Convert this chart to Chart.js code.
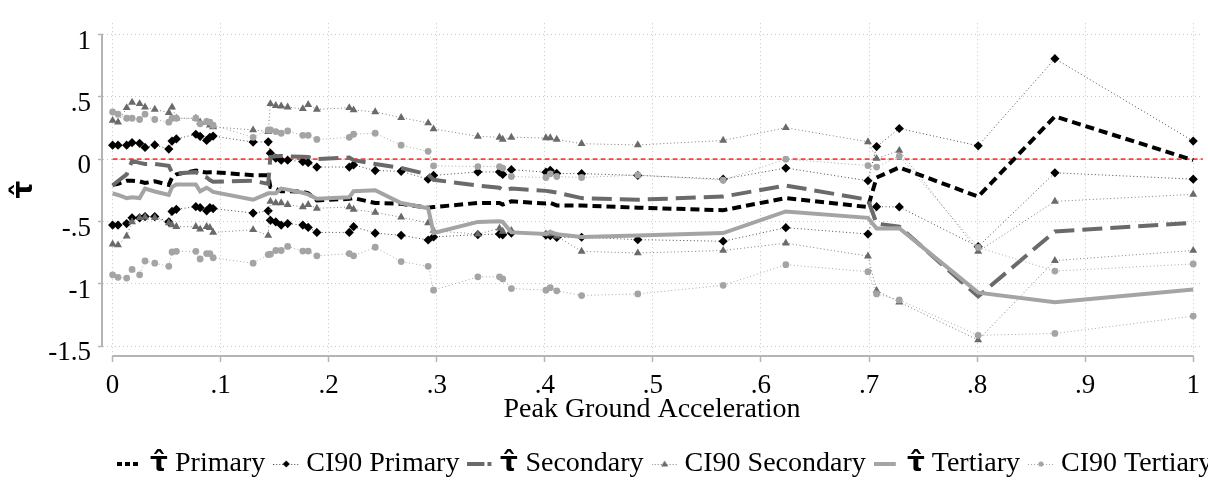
<!DOCTYPE html>
<html><head><meta charset="utf-8">
<script src="https://cdn.jsdelivr.net/npm/chart.js@4.4.0/dist/chart.umd.min.js"></script>
<style>
html,body{margin:0;padding:0;background:#fff;overflow:hidden}
#wrap{width:1208px;height:484px;position:relative}
@font-face{font-family:'TauSans';src:local('DejaVu Sans Bold'),local('DejaVuSans-Bold');unicode-range:U+03C4,U+0302;}
</style>
</head><body><div id="wrap"><canvas id="c" width="1208" height="484"></canvas></div>
<script>
// ---- data ----
const pga = [0.000,0.005,0.013,0.018,0.025,0.030,0.039,0.052,0.055,0.059,0.077,0.081,0.087,0.090,0.093,0.130,0.144,0.146,0.151,0.156,0.162,0.176,0.181,0.189,0.219,0.223,0.243,0.267,0.292,0.297,0.338,0.358,0.361,0.369,0.401,0.405,0.411,0.434,0.486,0.565,0.623,0.699,0.707,0.728,0.801,0.872,1.000];
const tauPrimary = [-0.206,-0.198,-0.173,-0.173,-0.178,-0.191,-0.178,-0.206,-0.147,-0.122,-0.091,-0.099,-0.107,-0.104,-0.104,-0.128,-0.128,-0.223,-0.236,-0.257,-0.257,-0.261,-0.274,-0.330,-0.318,-0.312,-0.351,-0.358,-0.389,-0.384,-0.351,-0.351,-0.364,-0.338,-0.356,-0.351,-0.371,-0.371,-0.389,-0.409,-0.312,-0.384,-0.147,-0.066,-0.300,0.343,-0.008];
const ciPrimaryUpper = [0.112,0.112,0.112,0.132,0.127,0.094,0.114,0.081,0.145,0.162,0.200,0.183,0.150,0.175,0.185,0.137,0.139,0.048,0.008,-0.008,-0.008,-0.020,-0.028,-0.063,-0.063,-0.046,-0.091,-0.097,-0.160,-0.130,-0.102,-0.102,-0.122,-0.084,-0.104,-0.089,-0.114,-0.116,-0.130,-0.160,-0.071,-0.173,0.101,0.246,0.107,0.806,0.145];
const ciPrimaryLower = [-0.528,-0.528,-0.516,-0.470,-0.470,-0.460,-0.460,-0.503,-0.419,-0.402,-0.381,-0.389,-0.414,-0.389,-0.396,-0.432,-0.414,-0.490,-0.503,-0.528,-0.516,-0.528,-0.547,-0.587,-0.587,-0.541,-0.593,-0.610,-0.648,-0.623,-0.605,-0.600,-0.606,-0.592,-0.608,-0.613,-0.628,-0.626,-0.645,-0.658,-0.549,-0.600,-0.381,-0.383,-0.701,-0.109,-0.160];
const tauSecondary = [-0.211,-0.175,-0.122,-0.013,-0.030,-0.038,-0.038,-0.053,-0.109,-0.114,-0.104,-0.122,-0.147,-0.168,-0.181,-0.173,-0.198,0.017,0.023,0.025,0.023,0.019,0.017,0.000,0.013,-0.008,-0.038,-0.071,-0.122,-0.165,-0.211,-0.229,-0.249,-0.236,-0.254,-0.259,-0.267,-0.312,-0.325,-0.300,-0.211,-0.325,-0.516,-0.541,-1.100,-0.579,-0.511];
const ciSecondaryUpper = [0.310,0.297,0.412,0.455,0.444,0.417,0.399,0.373,0.417,0.328,0.328,0.297,0.297,0.272,0.259,0.234,0.221,0.444,0.429,0.425,0.417,0.404,0.437,0.399,0.412,0.394,0.379,0.333,0.290,0.242,0.183,0.175,0.158,0.175,0.170,0.170,0.158,0.124,0.114,0.150,0.252,0.139,0.005,0.069,-0.739,-0.338,-0.282];
const ciSecondaryLower = [-0.681,-0.688,-0.617,-0.503,-0.470,-0.465,-0.470,-0.511,-0.528,-0.541,-0.541,-0.562,-0.541,-0.549,-0.587,-0.566,-0.612,-0.338,-0.351,-0.351,-0.364,-0.383,-0.364,-0.394,-0.383,-0.402,-0.427,-0.465,-0.511,-0.572,-0.602,-0.554,-0.579,-0.572,-0.600,-0.600,-0.617,-0.739,-0.752,-0.732,-0.673,-0.777,-1.054,-1.146,-1.450,-0.813,-0.732];
const tauTertiary = [-0.274,-0.287,-0.312,-0.305,-0.312,-0.236,-0.259,-0.287,-0.223,-0.203,-0.203,-0.257,-0.229,-0.244,-0.262,-0.325,-0.274,-0.274,-0.274,-0.236,-0.244,-0.269,-0.282,-0.318,-0.305,-0.257,-0.249,-0.351,-0.394,-0.592,-0.503,-0.498,-0.503,-0.587,-0.600,-0.582,-0.602,-0.623,-0.612,-0.592,-0.419,-0.470,-0.556,-0.554,-1.070,-1.146,-1.044];
const ciTertiaryUpper = [0.379,0.361,0.328,0.328,0.318,0.361,0.318,0.297,0.328,0.328,0.328,0.284,0.302,0.297,0.272,0.175,0.234,0.234,0.221,0.208,0.226,0.191,0.191,0.158,0.175,0.200,0.208,0.112,0.063,-0.053,-0.059,-0.059,-0.071,-0.139,-0.147,-0.117,-0.139,-0.147,-0.127,-0.168,0.000,-0.051,-0.063,0.025,-0.707,-0.897,-0.840];
const ciTertiaryLower = [-0.927,-0.947,-0.953,-0.884,-0.927,-0.816,-0.834,-0.859,-0.744,-0.739,-0.739,-0.800,-0.757,-0.757,-0.790,-0.834,-0.765,-0.762,-0.732,-0.732,-0.699,-0.737,-0.737,-0.775,-0.757,-0.775,-0.706,-0.821,-0.859,-1.050,-0.943,-0.943,-0.960,-1.037,-1.050,-1.030,-1.055,-1.093,-1.080,-1.011,-0.846,-0.902,-1.080,-1.128,-1.412,-1.397,-1.258];
const xTicks = [0,0.1,0.2,0.3,0.4,0.5,0.6,0.7,0.8,0.9,1];
const xTickLabels = ['0','.1','.2','.3','.4','.5','.6','.7','.8','.9','1'];
const yTicks = [-1.5,-1,-0.5,0,0.5,1];
const yTickLabels = ['-1.5','-1','-.5','0','.5','1'];
const legendNames = ['\u03C4\u0302 Primary','CI90 Primary','\u03C4\u0302 Secondary','CI90 Secondary','\u03C4\u0302 Tertiary','CI90 Tertiary'];
const xTitle = 'Peak Ground Acceleration';
const yTitle = '\u03C4\u0302';

// ---- styles ----
const SERIF = "'TauSans','Liberation Serif','Times New Roman',serif";
const C1 = '#000000', C2 = '#6a6a6a', C3 = '#a4a4a4';
const D1 = '#4a4a4a', D2 = '#7e7e7e', D3 = '#a8a8a8';
const pts = ys => pga.map((x, i) => ({x, y: ys[i]}));

function icon(kind) {
  const c = document.createElement('canvas'); c.width = 26; c.height = 12;
  const g = c.getContext('2d'); const m = 6;
  if (kind === 0) { g.strokeStyle = C1; g.lineWidth = 4; g.setLineDash([5,3]); g.beginPath(); g.moveTo(0,m); g.lineTo(22,m); g.stroke(); }
  if (kind === 2) { g.strokeStyle = C2; g.lineWidth = 4; g.setLineDash([17,3]); g.beginPath(); g.moveTo(0,m); g.lineTo(24,m); g.stroke(); }
  if (kind === 4) { g.strokeStyle = C3; g.lineWidth = 4; g.beginPath(); g.moveTo(0,m); g.lineTo(22,m); g.stroke(); }
  if (kind === 1 || kind === 3 || kind === 5) {
    const col = kind === 1 ? C1 : kind === 3 ? C2 : C3;
    g.strokeStyle = kind === 1 ? D1 : kind === 3 ? D2 : D3; g.lineWidth = 1; g.setLineDash([1,2]);
    g.beginPath(); g.moveTo(0,m+0.5); g.lineTo(26,m+0.5); g.stroke();
    g.fillStyle = col; g.beginPath();
    if (kind === 1) { g.moveTo(13,m-3.5); g.lineTo(16.5,m); g.lineTo(13,m+3.5); g.lineTo(9.5,m); }
    else if (kind === 3) { g.moveTo(13,m-3.5); g.lineTo(16.5,m+2.5); g.lineTo(9.5,m+2.5); }
    else { g.arc(13,m,2.6,0,Math.PI*2); }
    g.closePath(); g.fill();
  }
  return c;
}
const legendIcons = [0,1,2,3,4,5].map(icon);

const axisPlugin = {
  id: 'axisPlugin',
  beforeDatasetsDraw(chart) {
    const {ctx, chartArea, scales: {x, y}} = chart;
    ctx.save();
    ctx.strokeStyle = '#b4b4b4'; ctx.lineWidth = 2; ctx.setLineDash([]);
    ctx.beginPath();
    ctx.moveTo(x.getPixelForValue(xTicks[0]), chartArea.bottom);
    ctx.lineTo(x.getPixelForValue(xTicks[xTicks.length-1]), chartArea.bottom);
    ctx.moveTo(chartArea.left - 1, y.getPixelForValue(yTicks[0]));
    ctx.lineTo(chartArea.left - 1, y.getPixelForValue(yTicks[yTicks.length-1]));
    ctx.stroke();
    const y0 = y.getPixelForValue(0);
    ctx.strokeStyle = '#ff4040'; ctx.lineWidth = 1.8; ctx.setLineDash([5,3]);
    ctx.beginPath(); ctx.moveTo(x.getPixelForValue(xTicks[0]), y0); ctx.lineTo(chartArea.right + 2, y0); ctx.stroke();
    ctx.restore();
  }
};
const legendShift = {
  id: 'legendShift',
  afterLayout(chart) { const l = chart.legend; l.left += 109; l.right += 109; l.top += 4; l.bottom += 4; }
};

const ciLine = (ys, col, dot, style, r, ord, label) => ({
  label, data: pts(ys), borderColor: dot, borderWidth: 1, borderDash: [1,2.5],
  pointStyle: style, pointRadius: r, pointBackgroundColor: col, pointBorderColor: col, pointBorderWidth: 0,
  order: ord, tension: 0
});

function draw() {
new Chart(document.getElementById('c'), {
  type: 'line',
  data: {
    datasets: [
      {label: legendNames[0], data: pts(tauPrimary), borderColor: C1, borderWidth: 4, borderDash: [9,5], pointRadius: 0, order: 12},
      ciLine(ciPrimaryUpper, C1, D1, 'rectRot', 4.6, 11, legendNames[1]),
      ciLine(ciPrimaryLower, C1, D1, 'rectRot', 4.6, 10, legendNames[1]),
      {label: legendNames[2], data: pts(tauSecondary), borderColor: C2, borderWidth: 4, borderDash: [20,8], pointRadius: 0, order: 9},
      ciLine(ciSecondaryUpper, C2, D2, 'triangle', 4.6, 8, legendNames[3]),
      ciLine(ciSecondaryLower, C2, D2, 'triangle', 4.6, 7, legendNames[3]),
      {label: legendNames[4], data: pts(tauTertiary), borderColor: C3, borderWidth: 4, pointRadius: 0, order: 6},
      ciLine(ciTertiaryUpper, C3, D3, 'circle', 3.4, 5, legendNames[5]),
      ciLine(ciTertiaryLower, C3, D3, 'circle', 3.4, 4, legendNames[5])
    ]
  },
  options: {
    responsive: false, animation: false, devicePixelRatio: 1, events: [],
    layout: {padding: {top: 6, right: 2, left: 0, bottom: 0}},
    plugins: {
      tooltip: {enabled: false},
      legend: {
        position: 'bottom', align: 'start',
        labels: {
          usePointStyle: true, pointStyleWidth: 12, padding: 15,
          font: {family: SERIF, size: 28}, color: '#000',
          generateLabels: () => legendNames.map((t, i) => ({
            text: t, pointStyle: legendIcons[i], fillStyle: 'rgba(0,0,0,0)', strokeStyle: 'rgba(0,0,0,0)',
            lineWidth: 0, hidden: false, datasetIndex: i, fontColor: '#000'
          }))
        }
      }
    },
    scales: {
      x: {
        type: 'linear', min: -0.0089, max: 1.0071,
        afterBuildTicks: s => { s.ticks = xTicks.map(v => ({value: v})); },
        afterFit: s => { s.height = 75; },
        border: {display: false, dash: [1,3]},
        grid: {color: '#c8c8c8', lineWidth: 1, drawTicks: true, tickLength: 6,
               tickColor: '#b4b4b4', tickWidth: 1.5, tickBorderDash: []},
        ticks: {font: {family: SERIF, size: 27}, color: '#000', padding: 8, maxRotation: 0,
                callback: v => xTickLabels[xTicks.indexOf(v)]},
        title: {display: true, text: xTitle, font: {family: SERIF, size: 28}, color: '#000', padding: {top: 0, bottom: 5}}
      },
      y: {
        type: 'linear', min: -1.5777, max: 1.09,
        afterBuildTicks: s => { s.ticks = yTicks.map(v => ({value: v})); },
        afterFit: s => { s.width = 103; },
        border: {display: false, dash: [1,3]},
        grid: {color: '#c8c8c8', lineWidth: 1, drawTicks: true, tickLength: 5,
               tickColor: '#b4b4b4', tickWidth: 1.5, tickBorderDash: []},
        ticks: {font: {family: SERIF, size: 27}, color: '#000', padding: 7, labelOffset: 7,
                callback: v => yTickLabels[yTicks.indexOf(v)]},
        title: {display: true, text: yTitle, font: {family: "'DejaVu Sans',sans-serif", size: 28, weight: 'bold'}, color: '#000', padding: {top: 8, bottom: 0}}
      }
    }
  },
  plugins: [axisPlugin, legendShift]
});
}
Promise.all([
  document.fonts.load("28px TauSans", "\u03C4\u0302"),
  document.fonts.load("28px 'Liberation Serif'", "Peak 0.5"),
  document.fonts.load("bold 28px 'DejaVu Sans'", "\u03C4\u0302")
]).then(draw, draw);
</script></body></html>
